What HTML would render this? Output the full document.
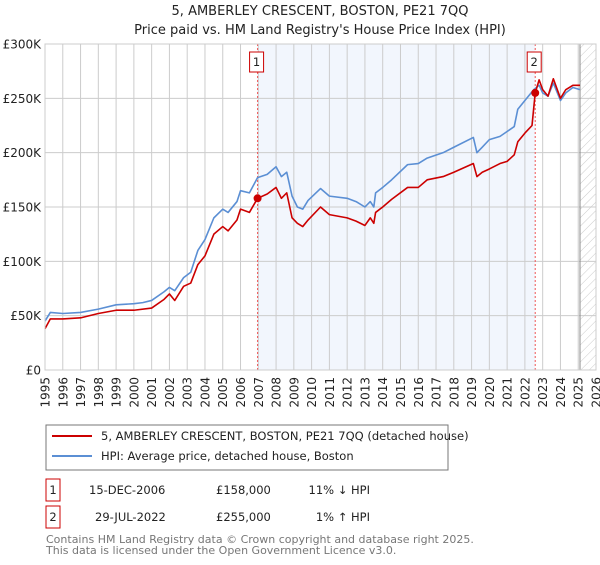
<!DOCTYPE html>
<html><head><meta charset="utf-8"><style>
body{margin:0;background:#fff;font-family:"Liberation Sans","DejaVu Sans",sans-serif;}
svg text{font-family:"DejaVu Sans","Liberation Sans",sans-serif;}
</style></head><body>
<svg id="chart" width="600" height="560" viewBox="0 0 600 560" xmlns="http://www.w3.org/2000/svg">
<defs>
<pattern id="hatch" width="6" height="6" patternUnits="userSpaceOnUse" patternTransform="rotate(45)">
<line x1="0" y1="0" x2="0" y2="6" stroke="#ccc" stroke-width="1"/>
</pattern>
</defs>
<text x="320" y="15" text-anchor="middle" font-size="13" fill="#222">5, AMBERLEY CRESCENT, BOSTON, PE21 7QQ</text>
<text x="320" y="34" text-anchor="middle" font-size="13" fill="#222">Price paid vs. HM Land Registry's House Price Index (HPI)</text>
<g id="grid"></g>
<g id="series"></g>
<g id="axes"></g>
<g>
<rect x="46" y="425" width="402" height="45" fill="#fff" stroke="#777" stroke-width="1"/>
<line x1="52" y1="436" x2="92" y2="436" stroke="#cc0000" stroke-width="2"/>
<text x="101" y="440" font-size="11.5" fill="#222">5, AMBERLEY CRESCENT, BOSTON, PE21 7QQ (detached house)</text>
<line x1="52" y1="456" x2="92" y2="456" stroke="#5b8fd4" stroke-width="2"/>
<text x="101" y="460" font-size="11.5" fill="#222">HPI: Average price, detached house, Boston</text>
</g>
<g font-size="11.5" fill="#222">
<rect x="46" y="479" width="14" height="22" fill="#fff" stroke="#cc0000"/>
<text x="53" y="494" text-anchor="middle">1</text>
<text x="89" y="494">15-DEC-2006</text>
<text x="216" y="494">£158,000</text>
<text x="370" y="494" text-anchor="end">11% ↓ HPI</text>
<rect x="46" y="506" width="14" height="22" fill="#fff" stroke="#cc0000"/>
<text x="53" y="521" text-anchor="middle">2</text>
<text x="95" y="521">29-JUL-2022</text>
<text x="216" y="521">£255,000</text>
<text x="370" y="521" text-anchor="end">1% ↑ HPI</text>
</g>
<text x="46" y="543" font-size="11" fill="#777">Contains HM Land Registry data © Crown copyright and database right 2025.</text>
<text x="46" y="554" font-size="11" fill="#777">This data is licensed under the Open Government Licence v3.0.</text>
</svg>
<script>
const yTicks=[0,50000,100000,150000,200000,250000,300000];
const yTickLabels=["£0","£50K","£100K","£150K","£200K","£250K","£300K"];
const xTicks=[1995,1996,1997,1998,1999,2000,2001,2002,2003,2004,2005,2006,2007,2008,2009,2010,2011,2012,2013,2014,2015,2016,2017,2018,2019,2020,2021,2022,2023,2024,2025,2026];
const hpiYears=[1995.0,1995.3,1996,1997,1998,1999,2000,2000.5,2001,2001.7,2002,2002.3,2002.8,2003.2,2003.6,2004,2004.5,2005,2005.3,2005.8,2006,2006.5,2006.96,2007.5,2008,2008.3,2008.6,2008.9,2009.2,2009.5,2009.8,2010.5,2011,2012,2012.5,2013,2013.3,2013.5,2013.6,2014,2014.5,2015.4,2016,2016.5,2017.4,2018,2019.1,2019.3,2019.6,2020,2020.6,2021.4,2021.6,2022,2022.5,2022.8,2023,2023.3,2023.6,2024,2024.3,2024.7,2025.1];
const hpiValues=[45000,53000,52000,53000,56000,60000,61000,62000,64000,72000,76000,73000,85000,90000,110000,120000,140000,148000,145000,155000,165000,163000,177000,180000,187000,178000,182000,160000,150000,148000,156000,167000,160000,158000,155000,150000,155000,150000,163000,168000,175000,189000,190000,195000,200000,205000,214000,200000,205000,212000,215000,224000,240000,248000,258000,262000,255000,252000,264000,248000,255000,260000,258000];
const priceYears=[1995.0,1995.3,1996,1997,1998,1999,2000,2001,2001.7,2002,2002.3,2002.8,2003.2,2003.6,2004,2004.5,2005,2005.3,2005.8,2006,2006.5,2006.96,2007.5,2008,2008.3,2008.6,2008.9,2009.2,2009.5,2009.8,2010.5,2011,2012,2012.5,2013,2013.3,2013.5,2013.6,2014,2014.5,2015.4,2016,2016.5,2017.4,2018,2019.1,2019.3,2019.6,2020,2020.6,2021,2021.4,2021.6,2022,2022.4,2022.58,2022.8,2023,2023.3,2023.6,2024,2024.3,2024.7,2025.1];
const priceValues=[38000,47000,47000,48000,52000,55000,55000,57000,65000,70000,64000,77000,80000,97000,105000,125000,132000,128000,138000,148000,145000,158000,162000,168000,158000,163000,140000,135000,132000,138000,150000,143000,140000,137000,133000,140000,135000,145000,150000,157000,168000,168000,175000,178000,182000,190000,178000,182000,185000,190000,192000,198000,210000,218000,225000,255000,267000,258000,252000,268000,250000,258000,262000,262000];
const saleYears=[2006.96,2022.58];
const saleValues=[158000,255000];
const saleLabels=["1","2"];
const dataEndYear=2025.1;

const NS="http://www.w3.org/2000/svg";
const X0=45,X1=596,Y0=370,Y1=44;
const xs=y=>X0+(y-1995)/(2026-1995)*(X1-X0);
const ys=v=>Y0-v/300000*(Y0-Y1);
function mk(tag,attrs,parent){const e=document.createElementNS(NS,tag);for(const k in attrs)e.setAttribute(k,attrs[k]);parent.appendChild(e);return e;}
const grid=document.getElementById('grid'),series=document.getElementById('series'),axes=document.getElementById('axes');

const shade=mk('rect',{x:xs(saleYears[0]),y:Y1,width:xs(saleYears[1])-xs(saleYears[0]),height:Y0-Y1,fill:'#eef3fc',opacity:'0.75'},grid);


const hat=mk('rect',{x:xs(dataEndYear),y:Y1,width:X1-xs(dataEndYear),height:Y0-Y1,fill:'url(#hatch)'},grid);



xTicks.forEach(t=>{
  const l=mk('line',{x1:xs(t),x2:xs(t),y1:Y1,y2:Y0,stroke:'#cccccc','stroke-width':1},grid);
  
  
  const tx=mk('text',{x:0,y:0,'font-size':12,fill:'#222','text-anchor':'end',transform:`translate(${xs(t)+4.5},${Y0+7}) rotate(-90)`},axes);
  tx.textContent=t;
  
  
});
yTicks.forEach((t,i)=>{
  const l=mk('line',{x1:X0,x2:X1,y1:ys(t),y2:ys(t),stroke:'#cccccc','stroke-width':1},grid);
  
  
  const tx=mk('text',{x:X0-4,y:ys(t)+4.5,'font-size':12,fill:'#222','text-anchor':'end'},axes);
  tx.textContent=yTickLabels[i];
  
  
});
const endLine=mk('line',{x1:xs(dataEndYear),x2:xs(dataEndYear),y1:Y1,y2:Y0,stroke:'#888','stroke-width':1},grid);



saleYears.forEach((y,i)=>{
  const l=mk('line',{x1:xs(y),x2:xs(y),y1:Y1,y2:Y0,stroke:'#ee5555','stroke-width':1,'stroke-dasharray':'2,2'},grid);
  
  
  const r=mk('rect',{x:xs(y)-8,y:52,width:14,height:20,fill:'#fff',stroke:'#cc0000'},axes);
  
  
  const tx=mk('text',{x:xs(y)-1,y:66,'font-size':11.5,fill:'#222','text-anchor':'middle'},axes);
  tx.textContent=saleLabels[i];
  
  
});

const hp=mk('polyline',{points:hpiYears.map((y,i)=>xs(y)+','+ys(hpiValues[i])).join(' '),fill:'none',stroke:'#5b8fd4','stroke-width':1.6,'stroke-linejoin':'round'},series);


const pp=mk('polyline',{points:priceYears.map((y,i)=>xs(y)+','+ys(priceValues[i])).join(' '),fill:'none',stroke:'#cc0000','stroke-width':1.6,'stroke-linejoin':'round'},series);


saleYears.forEach((y,i)=>{
  const c=mk('circle',{cx:xs(y),cy:ys(saleValues[i]),r:4,fill:'#cc0000'},series);
  
  
});
const frame=mk('rect',{x:X0,y:Y1,width:X1-X0,height:Y0-Y1,fill:'none',stroke:'#cccccc'},axes);


</script>
</body></html>
